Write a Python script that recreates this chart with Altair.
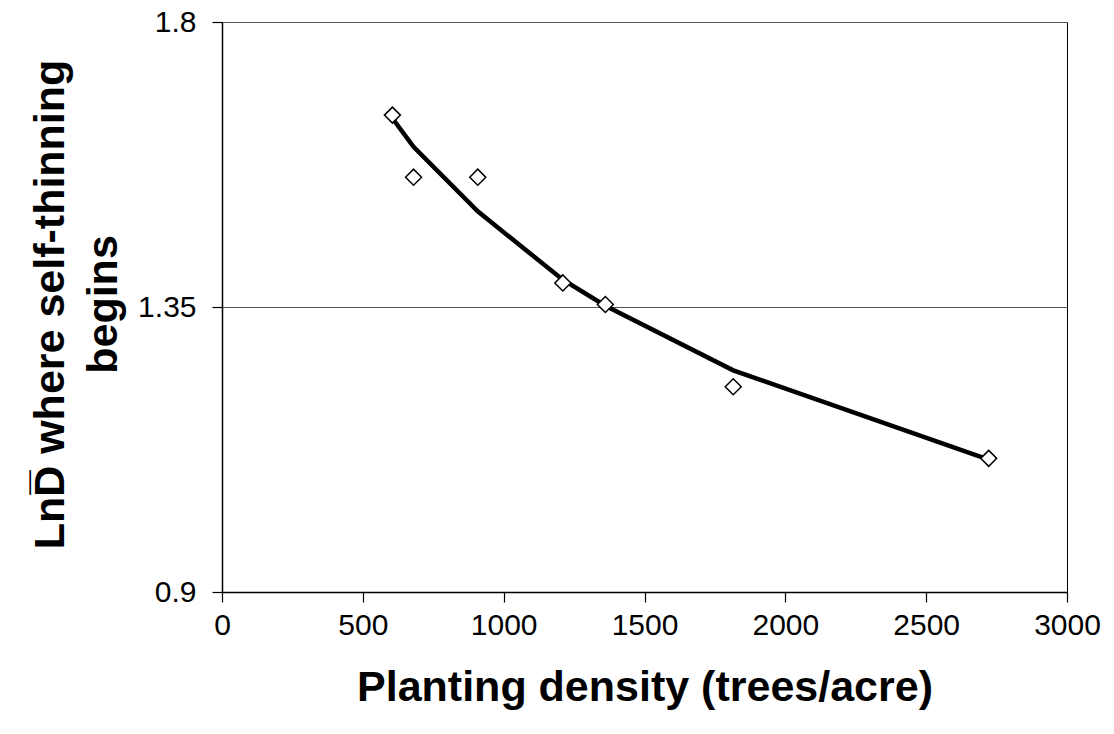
import altair as alt
import pandas as pd

# Observed points
density = [605, 680, 908, 1210, 1361, 1815, 2722]
lnd_obs = [1.653, 1.555, 1.555, 1.388, 1.354, 1.224, 1.111]
# Fitted curve values at the same densities
lnd_fit = [1.648, 1.603, 1.501, 1.393, 1.352, 1.250, 1.109]

x_ticks = [0, 500, 1000, 1500, 2000, 2500, 3000]
y_ticks = [0.9, 1.35, 1.8]

df_obs = pd.DataFrame({"density": density, "lnd": lnd_obs})
df_fit = pd.DataFrame({"density": density, "lnd": lnd_fit})

FONT = "Liberation Sans"

xenc = alt.X(
    "density:Q",
    scale=alt.Scale(domain=[0, 3000], nice=False, zero=False),
    axis=alt.Axis(
        values=x_ticks,
        format="d",
        title="Planting density (trees/acre)",
        grid=False,
        domainColor="black",
        domainWidth=1.5,
        tickColor="black",
        tickWidth=1.2,
        tickSize=10,
        labelFont=FONT,
        labelFontSize=30,
        labelColor="black",
        labelPadding=8,
        labelFlush=False,
        titleFont=FONT,
        titleFontSize=43,
        titleFontWeight="bold",
        titleColor="black",
        titlePadding=26,
    ),
)
yenc = alt.Y(
    "lnd:Q",
    scale=alt.Scale(domain=[0.9, 1.8], nice=False, zero=False),
    axis=alt.Axis(
        values=y_ticks,
        format=".2~f",
        title=["LnD\u0305 where self-thinning", "begins"],
        grid=True,
        gridColor="#555555",
        gridWidth=1,
        domainColor="black",
        domainWidth=1.5,
        tickColor="black",
        tickWidth=1.2,
        tickSize=10,
        labelFont=FONT,
        labelFontSize=30,
        labelColor="black",
        labelPadding=16,
        labelFlush=False,
        titleFont=FONT,
        titleFontSize=43,
        titleFontWeight="bold",
        titleColor="black",
        titleAngle=270,
        titleAlign="center",
        titleBaseline="alphabetic",
        titleX=-159,
        titleY=282,
        titleLineHeight=53,
    ),
)

line = alt.Chart(df_fit).mark_line(color="black", strokeWidth=4.5).encode(x=xenc, y=yenc)
pts = alt.Chart(df_obs).mark_point(
    shape="diamond", size=256, filled=True, fill="white", stroke="black", strokeWidth=1.5, opacity=1
).encode(x=xenc, y=yenc)

chart = (
    alt.layer(line, pts)
    .properties(
        width=845,
        height=570,
        padding={"left": 222, "top": 22, "right": 47, "bottom": 142},
        autosize=alt.AutoSizeParams(type="none"),
        background="white",
    )
    .configure_view(stroke="black", strokeWidth=1)
)

chart.save("out.html", embed_options={"renderer": "svg", "actions": False})
